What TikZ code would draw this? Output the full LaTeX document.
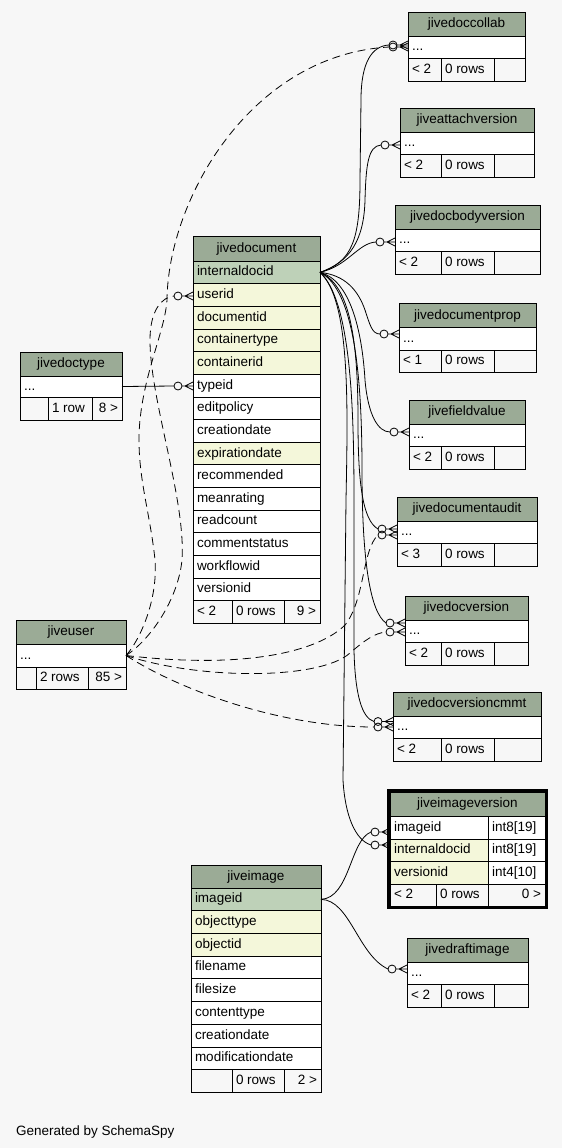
\documentclass[tikz,border=0pt]{standalone}
\usepackage{fontspec}
\setmainfont{Liberation Sans}
\usetikzlibrary{fit}
\definecolor{bgc}{HTML}{F7F7F7}
\definecolor{hdrc}{HTML}{9BAB96}
\definecolor{pkc}{HTML}{BED1B8}
\definecolor{idxc}{HTML}{F4F7DA}
\tikzset{
  cellbox/.style={draw=black, line width=0.8bp, inner sep=0pt, outer sep=0pt},
  lbl/.style={inner sep=0pt, outer sep=0pt, font=\fontsize{13.5bp}{16bp}\selectfont, text height=10bp, text depth=3bp},
  conn/.style={draw=black, line width=0.8bp},
  fk/.style={conn},
  fkd/.style={conn, dash pattern=on 8bp off 5bp},
  crowmark/.pic={\draw[conn] (-15,0) circle (4bp); \draw[conn] (-11,0) -- (0,0) (-8,0) -- (0,-4) (-8,0) -- (0,4);}
}
\newcommand{\cellbx}[6]{\coordinate (#1-a) at (#2,#3); \coordinate (#1-b) at (#4,#5); \node[cellbox, fill=#6, fit=(#1-a)(#1-b)] (#1) {};}
\newcommand{\lblL}[2]{\node[lbl, anchor=west] (#1-t) at ([xshift=4bp]#1.west) {#2};}
\newcommand{\lblC}[2]{\node[lbl] (#1-t) at (#1.center) {#2};}
\newcommand{\lblR}[2]{\node[lbl, anchor=east] (#1-t) at ([xshift=-4bp]#1.east) {#2};}
% id x1 x2 ytop title footer1
\newcommand{\smalltbl}[6]{%
  \cellbx{#1}{#2}{#4}{#3}{#4+24}{hdrc}\lblC{#1}{#5}
  \cellbx{#1-r}{#2}{#4+24}{#3}{#4+46.5}{white}\lblL{#1-r}{...}
  \cellbx{#1-f1}{#2}{#4+46.5}{441}{#4+69}{bgc}\lblL{#1-f1}{#6}
  \cellbx{#1-f2}{441}{#4+46.5}{494}{#4+69}{bgc}\lblL{#1-f2}{0 rows}
  \cellbx{#1-f3}{494}{#4+46.5}{#3}{#4+69}{bgc}}
\begin{document}
\begin{tikzpicture}[x=1bp,y=-1bp]
\useasboundingbox (0,0) rectangle (562,1148);
\fill[bgc] (0,0) rectangle (562,1148);

% ---------- end-marker positions (at table edges) ----------
\coordinate (m-collab1) at (408,45);
\coordinate (m-collab2) at (408,47);
\coordinate (m-attach) at (400,145);
\coordinate (m-body) at (395,242);
\coordinate (m-prop) at (399,334);
\coordinate (m-field) at (409,432);
\coordinate (m-audit1) at (397,529);
\coordinate (m-audit2) at (397,535);
\coordinate (m-docver1) at (405,623);
\coordinate (m-docver2) at (405,632);
\coordinate (m-cmmt1) at (393,721.5);
\coordinate (m-cmmt2) at (393,727);
\coordinate (m-iv1) at (390,832);
\coordinate (m-iv2) at (390,845);
\coordinate (m-draft) at (407,969);
\coordinate (m-userid) at (193,296);
\coordinate (m-typeid) at (193,386);

% ---------- tables ----------
\smalltbl{collab}{408}{525}{12}{jivedoccollab}{< 2}
\smalltbl{attach}{400}{534}{108}{jiveattachversion}{< 2}
\smalltbl{body}{395}{540}{205}{jivedocbodyversion}{< 2}
\smalltbl{prop}{399}{536}{303.5}{jivedocumentprop}{< 1}
\smalltbl{field}{409}{525}{400}{jivefieldvalue}{< 2}
\smalltbl{audit}{397}{537}{497}{jivedocumentaudit}{< 3}
\smalltbl{docver}{405}{528}{596}{jivedocversion}{< 2}
\smalltbl{cmmt}{393}{541}{692}{jivedocversioncmmt}{< 2}
\smalltbl{draft}{407}{528}{938}{jivedraftimage}{< 2}

% jivedoctype
\cellbx{type}{20}{352}{122}{376}{hdrc}\lblC{type}{jivedoctype}
\cellbx{type-r}{20}{376}{122}{397}{white}\lblL{type-r}{...}
\cellbx{type-f1}{20}{397}{48}{420}{bgc}
\cellbx{type-f2}{48}{397}{92}{420}{bgc}\lblL{type-f2}{1 row}
\cellbx{type-f3}{92}{397}{122}{420}{bgc}\lblR{type-f3}{8 >}

% jiveuser
\cellbx{user}{16}{620}{126}{644}{hdrc}\lblC{user}{jiveuser}
\cellbx{user-r}{16}{644}{126}{667}{white}\lblL{user-r}{...}
\cellbx{user-f1}{16}{667}{36}{689}{bgc}
\cellbx{user-f2}{36}{667}{88}{689}{bgc}\lblL{user-f2}{2 rows}
\cellbx{user-f3}{88}{667}{126}{689}{bgc}\lblR{user-f3}{85 >}

% jivedocument
\cellbx{doc}{193}{236}{320}{261}{hdrc}\lblC{doc}{jivedocument}
\foreach \n/\f [count=\i from 0] in {internaldocid/pkc, userid/idxc, documentid/idxc, containertype/idxc, containerid/idxc, typeid/white, editpolicy/white, creationdate/white, expirationdate/idxc, recommended/white, meanrating/white, readcount/white, commentstatus/white, workflowid/white, versionid/white}{
  \cellbx{doc-\n}{193}{261+\i*22.65}{320}{261+\i*22.65+22.65}{\f}\lblL{doc-\n}{\n}
}
\cellbx{doc-f1}{193}{600.75}{232}{623}{bgc}\lblL{doc-f1}{< 2}
\cellbx{doc-f2}{232}{600.75}{284}{623}{bgc}\lblL{doc-f2}{0 rows}
\cellbx{doc-f3}{284}{600.75}{320}{623}{bgc}\lblR{doc-f3}{9 >}

% jiveimage
\cellbx{img}{191}{865}{321}{888}{hdrc}\lblC{img}{jiveimage}
\foreach \n/\f [count=\i from 0] in {imageid/pkc, objecttype/idxc, objectid/idxc, filename/white, filesize/white, contenttype/white, creationdate/white, modificationdate/white}{
  \cellbx{img-\n}{191}{888+\i*22.7}{321}{888+\i*22.7+22.7}{\f}\lblL{img-\n}{\n}
}
\cellbx{img-f1}{191}{1069.6}{232}{1092}{bgc}
\cellbx{img-f2}{232}{1069.6}{284}{1092}{bgc}\lblL{img-f2}{0 rows}
\cellbx{img-f3}{284}{1069.6}{321}{1092}{bgc}\lblR{img-f3}{2 >}

% jiveimageversion
\cellbx{iv}{390}{792}{545}{816}{hdrc}\lblC{iv}{jiveimageversion}
\cellbx{iv-imageid}{390}{816}{488}{839}{white}\lblL{iv-imageid}{imageid}
\cellbx{iv-imageid-ty}{488}{816}{545}{839}{white}\lblL{iv-imageid-ty}{int8[19]}
\cellbx{iv-internaldocid}{390}{839}{488}{861.5}{idxc}\lblL{iv-internaldocid}{internaldocid}
\cellbx{iv-internaldocid-ty}{488}{839}{545}{861.5}{white}\lblL{iv-internaldocid-ty}{int8[19]}
\cellbx{iv-versionid}{390}{861.5}{488}{884}{idxc}\lblL{iv-versionid}{versionid}
\cellbx{iv-versionid-ty}{488}{861.5}{545}{884}{white}\lblL{iv-versionid-ty}{int4[10]}
\cellbx{iv-f1}{390}{884}{436}{906}{bgc}\lblL{iv-f1}{< 2}
\cellbx{iv-f2}{436}{884}{488}{906}{bgc}\lblL{iv-f2}{0 rows}
\cellbx{iv-f3}{488}{884}{545}{906}{bgc}\lblR{iv-f3}{0 >}
\coordinate (ivo-a) at (388.5,790.5); \coordinate (ivo-b) at (546.5,907.5);
\node[draw=black, line width=3bp, inner sep=0pt, outer sep=0pt, fit=(ivo-a)(ivo-b)] (iv-frame) {};

% ---------- relationships ----------
% jivedocument.internaldocid -> children (solid)
\draw[fk] (doc-internaldocid.east) .. controls (352,262) and (360,240) .. (360,180) -- (361,100) .. controls (361,62) and (372,46) .. ([xshift=-19bp]m-collab1);
\draw[fk] (doc-internaldocid.east) .. controls (350,262) and (364,240) .. (365,200) .. controls (366,165) and (368,146) .. ([xshift=-19bp]m-attach);
\draw[fk] (doc-internaldocid.east) .. controls (348,266) and (358,243) .. ([xshift=-19bp]m-body);
\draw[fk] (doc-internaldocid.east) .. controls (345,275) and (358,290) .. (365,310) .. controls (370,325) and (372,334) .. ([xshift=-19bp]m-prop);
\draw[fk] (doc-internaldocid.east) .. controls (350,280) and (362,330) .. (365,380) .. controls (368,415) and (378,432) .. ([xshift=-19bp]m-field);
\draw[fk] (doc-internaldocid.east) .. controls (350,285) and (358,340) .. (358,420) .. controls (358,480) and (362,520) .. ([xshift=-19bp]m-audit1);
\draw[fk] (doc-internaldocid.east) .. controls (355,290) and (362,380) .. (362,470) .. controls (362,560) and (370,612) .. ([xshift=-19bp]m-docver1);
\draw[fk] (doc-internaldocid.east) .. controls (350,300) and (354,400) .. (354,500) -- (354,650) .. controls (355,695) and (362,718) .. ([xshift=-19bp]m-cmmt1);
\draw[fk] (doc-internaldocid.east) .. controls (350,300) and (348,400) .. (346,500) -- (343,780) .. controls (345,815) and (355,840) .. ([xshift=-19bp]m-iv2);
% jiveimage.imageid -> children
\draw[fk] (img-imageid.east) .. controls (350,898) and (350,840) .. ([xshift=-19bp]m-iv1);
\draw[fk] (img-imageid.east) .. controls (350,900) and (358,955) .. ([xshift=-19bp]m-draft);
% jivedoctype -> typeid
\draw[fk] (type-r.east) -- ([xshift=-19bp]m-typeid);
% jiveuser -> children (dashed)
\draw[fkd] (user-r.east) .. controls (150,640) and (178,600) .. (182,560) .. controls (186,500) and (150,400) .. (150,340) .. controls (150,310) and (162,297) .. ([xshift=-19bp]m-userid);
\draw[fkd] (user-r.east) .. controls (140,640) and (158,600) .. (155,560) .. controls (150,510) and (135,470) .. (140,420) .. controls (145,370) and (165,330) .. (167,300) .. controls (168,200) and (250,55) .. ([xshift=-19bp]m-collab2);
\draw[fkd] (user-r.east) .. controls (250,670) and (320,650) .. (345,625) .. controls (365,600) and (362,550) .. ([xshift=-19bp]m-audit2);
\draw[fkd] (user-r.east) .. controls (200,680) and (320,680) .. (350,653) .. controls (365,640) and (375,633) .. ([xshift=-19bp]m-docver2);
\draw[fkd] (user-r.east) .. controls (180,690) and (280,727) .. ([xshift=-19bp]m-cmmt2);

% end markers
\foreach \m in {collab1,collab2,attach,body,prop,field,audit1,audit2,docver1,docver2,cmmt1,cmmt2,iv1,iv2,draft,userid,typeid}{
  \pic at (m-\m) {crowmark};
}

\node[lbl, anchor=base west] (credit) at (16,1135) {Generated by SchemaSpy};
\end{tikzpicture}
\end{document}
